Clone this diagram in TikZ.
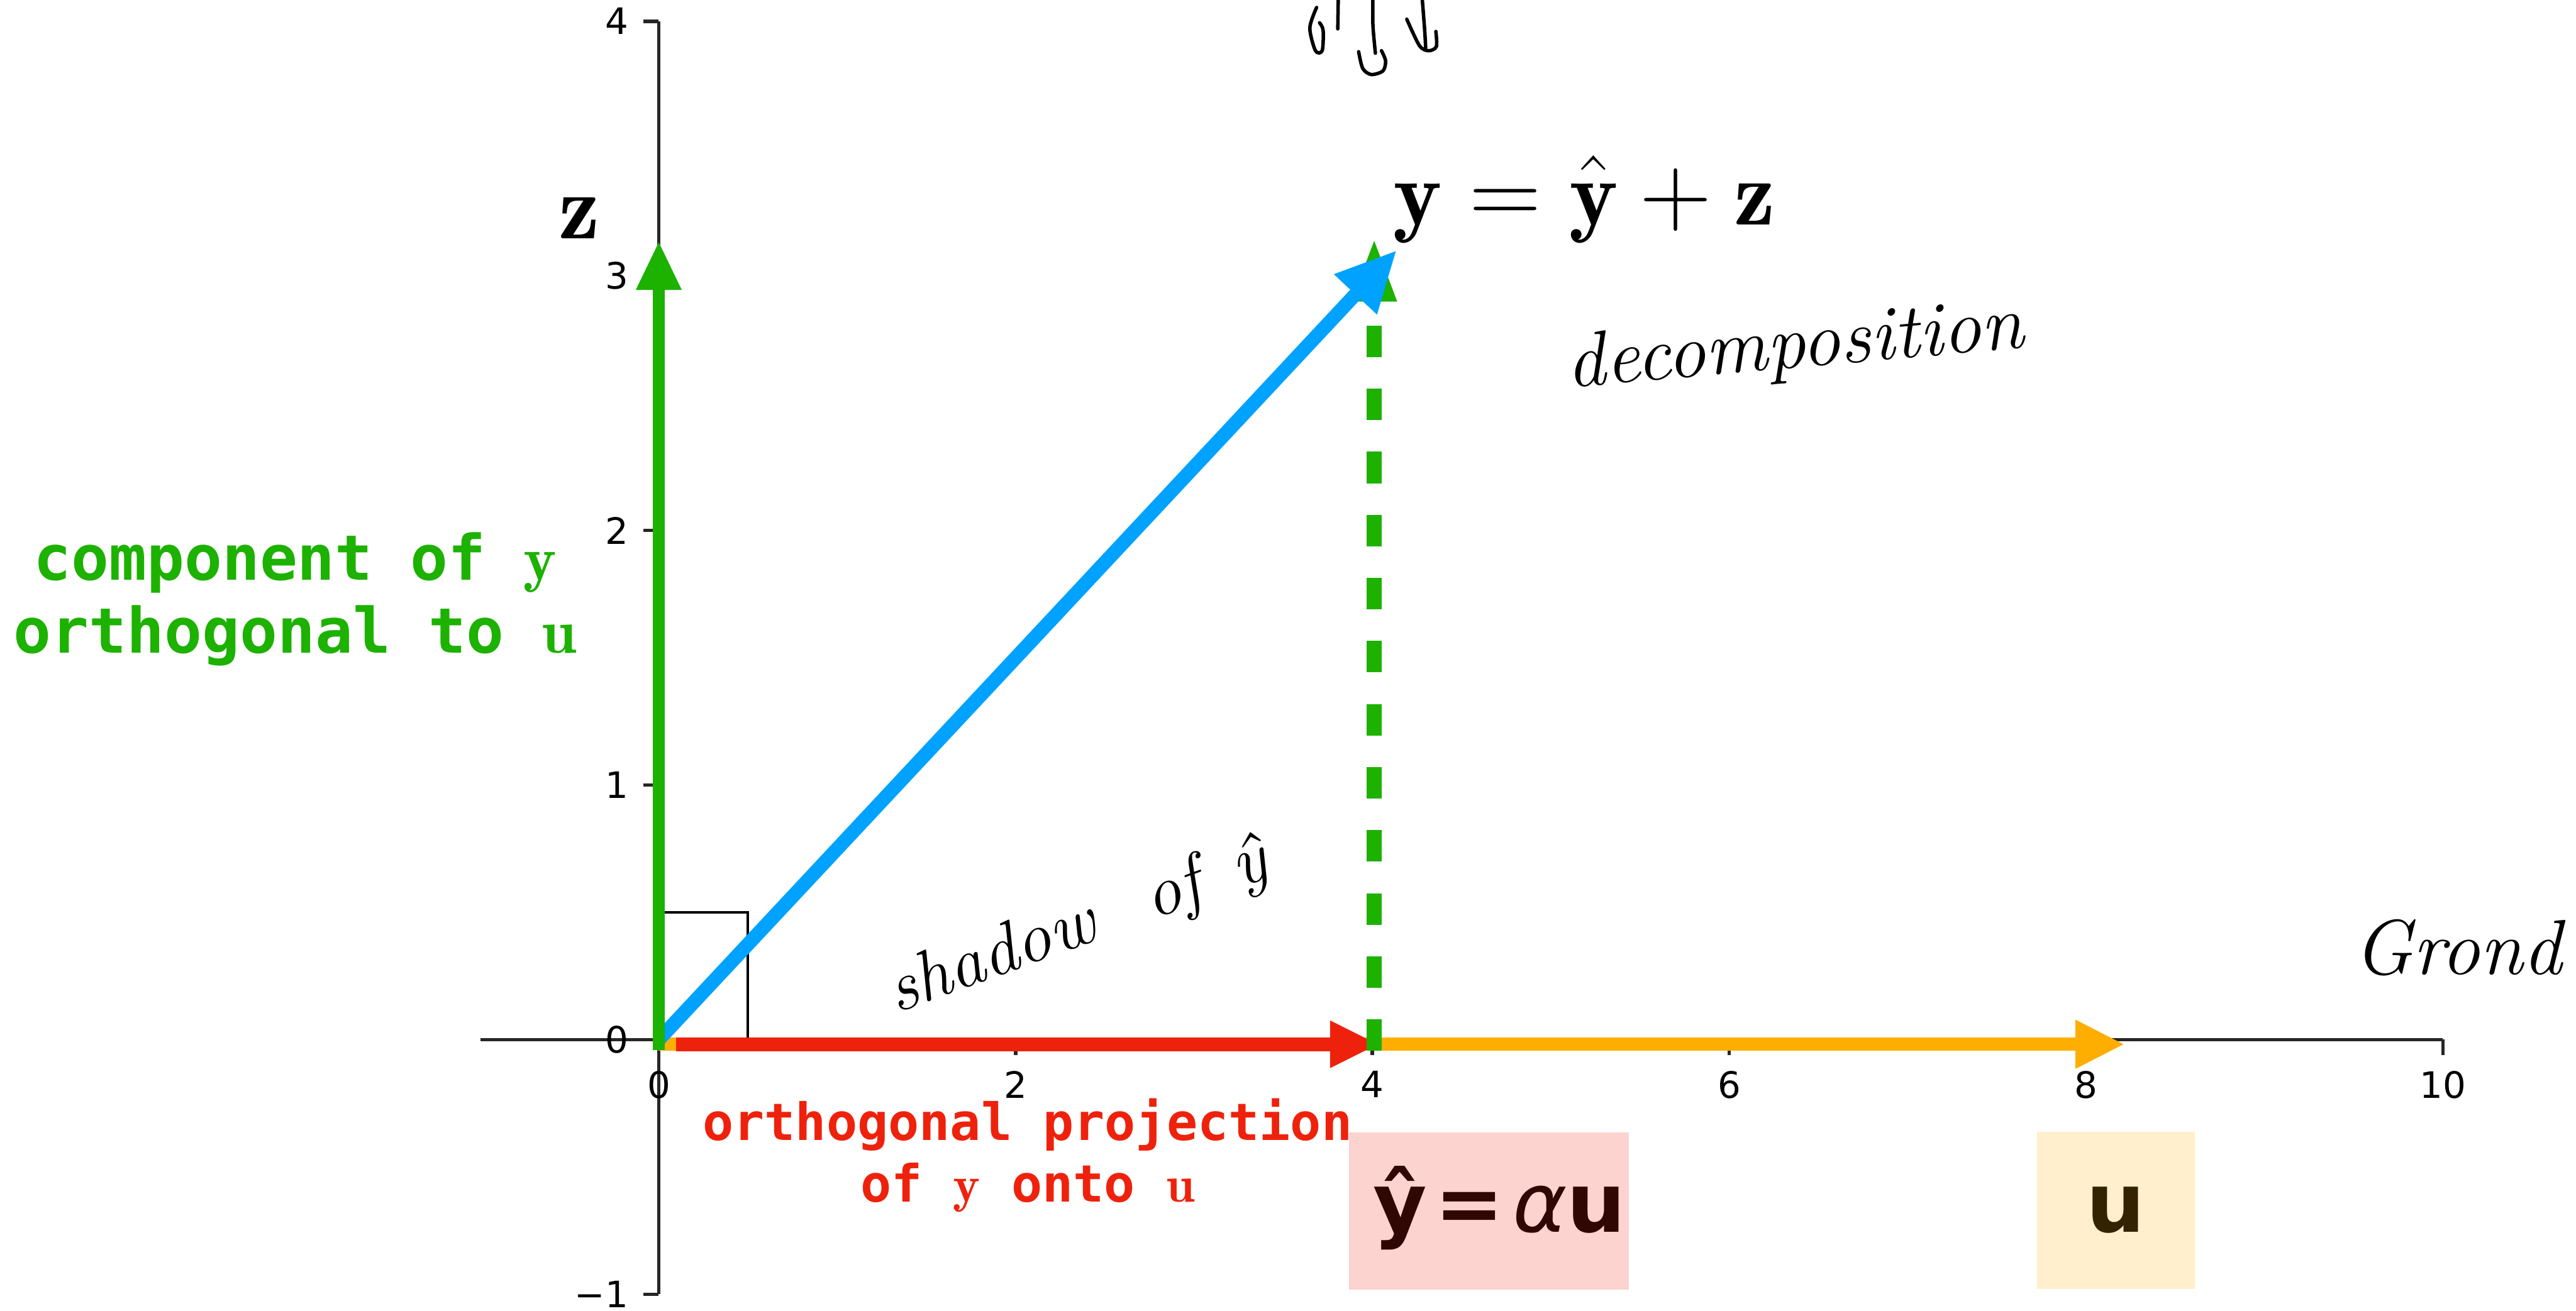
\documentclass[tikz,border=0pt]{standalone}
\usepackage{fontspec}
\usepackage{tikz}
\usetikzlibrary{arrows.meta}
\newfontfamily\dvsans{DejaVu Sans}
\newfontfamily\dvmono{DejaVu Sans Mono}
\definecolor{zgreen}{RGB}{29,177,0}
\definecolor{yblue}{RGB}{0,162,255}
\definecolor{projred}{RGB}{238,34,12}
\definecolor{uorange}{RGB}{254,174,0}
\definecolor{spinegray}{RGB}{38,38,38}

\begin{document}
\begin{tikzpicture}[x=10.86mm,y=15.5mm]
  \tikzset{
    spine/.style={draw=spinegray,line width=0.6pt},
    ticklab/.style={font=\dvsans\fontsize{6.3}{7}\selectfont,inner sep=0pt},
    vec/.style={line width=0.8mm},
    complab/.style={text=zgreen,font=\dvmono\bfseries\fontsize{10.85}{13}\selectfont,inner sep=0pt,anchor=base},
    projlab/.style={text=projred,font=\dvmono\bfseries\fontsize{8.9}{10.5}\selectfont,inner sep=0pt,anchor=base},
    eqlab/.style={font=\fontsize{16}{19}\selectfont,inner sep=0pt},
    hand/.style={font=\itshape\fontsize{#1}{#1}\selectfont,inner sep=0pt},
    ink/.style={draw=black,line width=0.6pt,line cap=round,line join=round},
    tagbox/.style={inner sep=0pt,minimum height=9.56mm},
    tagtext/.style={font=\dvsans\bfseries\fontsize{14.3}{17}\selectfont,inner sep=0pt,anchor=base},
  }
  \useasboundingbox (-3.6924,-1.0645) rectangle (10.746,4.0839);

  % axes through the origin
  \draw[spine] (-1,0) -- (10,0);
  \draw[spine] (0,-1) -- (0,4);
  \foreach \xv in {0,2,4,6,8,10} {
    \draw[spine] (\xv,0) -- ++(0,-0.92mm);
    \node[ticklab,anchor=north] (xt\xv) at (\xv,-0.119) {\xv};
  }
  \foreach \yv/\ylab in {-1/−1,0/0,1/1,2/2,3/3,4/4} {
    \draw[spine] (0,\yv) -- ++(-0.92mm,0);
    \node[ticklab,anchor=east] (yt\yv) at (-0.164,\yv) {\ylab};
  }

  \coordinate (O) at (0,0);
  \coordinate (zbot) at (0,-0.041);
  \coordinate (ztip) at (0,3.132);
  \coordinate (ytip) at (4.131,3.097);
  \coordinate (ubot) at (0,-0.018);
  \coordinate (utip) at (8.21,-0.018);
  \coordinate (pbot) at (0.098,-0.018);
  \coordinate (ptip) at (4.03,-0.018);
  \coordinate (dbot) at (4.01,-0.044);
  \coordinate (dtip) at (4.01,3.138);

  % right angle
  \draw[black,line width=0.4pt] (0,0.5) -- (0.5,0.5) -- (0.5,0);

  % vectors
  \draw[vec,draw=uorange,-{Triangle[length=2.93mm,width=3mm,line width=0pt]}] (ubot) -- (utip);
  \draw[vec,draw=projred,line width=0.85mm,-{Triangle[length=2.9mm,width=2.9mm,line width=0pt]}] (pbot) -- (ptip);
  \draw[vec,draw=zgreen,line width=0.95mm,dash pattern=on 1.92mm off 1.92mm,-{Triangle[length=3.7mm,width=2.8mm,line width=0pt]}] (dbot) -- (dtip);
  \draw[vec,draw=yblue,line width=0.85mm,-{Triangle[length=3.6mm,width=3.6mm,line width=0pt]}] (O) -- (ytip);
  \draw[vec,draw=zgreen,line width=0.75mm,-{Triangle[length=2.9mm,width=2.8mm,line width=0pt]}] (zbot) -- (ztip);

  % labels
  \node[eqlab,anchor=base west] (eq) at (4.11,3.2) {$\mathbf{y}=\hat{\mathbf{y}}+\mathbf{z}$};
  \node[eqlab,anchor=base] (zlab) at (-0.447,3.146) {$\mathbf{z}$};
  \node[complab] (comp1) at (-2.038,1.8045) {component of $\mathbf{y}$};
  \node[complab] (comp2) at (-2.038,1.518) {orthogonal to $\mathbf{u}$};
  \node[projlab] (proj1) at (2.067,-0.3948) {orthogonal projection};
  \node[projlab] (proj2) at (2.067,-0.6374) {of $\mathbf{y}$ onto $\mathbf{u}$};

  \node[tagbox,fill=projred!20,minimum width=17.06mm] (hatbox) at (4.6525,-0.6725) {};
  \node[tagtext,text=projred!20!black] (hattxt) at (4.712,-0.755) {ŷ\hspace{0.1em}=\hspace{0.1em}{\mdseries\itshape α}u};
  \node[tagbox,fill=uorange!20,minimum width=9.59mm] (ubox) at (8.1675,-0.67) {};
  \node[tagtext,text=uorange!20!black] (utxt) at (8.168,-0.757) {u};

  % handwritten notes
  \node[hand=13.4,rotate=5] (decomp) at (6.369,2.716) {decomposition};
  \node[hand=12.3,rotate=20,anchor=base west] (shadow) at (1.326,0.103) {shadow\hspace{0.8em}of\hspace{0.5em}\^{y}};
  \node[hand=13.5,anchor=base west] (grond) at (9.494,0.256) {Grond};
  \begin{scope}[shift={(-3.6924,4.0839)},x=0.1mm,y=-0.1mm]
    \draw[ink] plot[smooth] coordinates {(801.4,4.6) (797.3,17) (800.7,30.9) (804.8,30.9) (805.4,18.5) (803.2,13.9)};
    \draw[ink] (814.6,-2) -- (814.3,17.6);
    \draw[ink] plot[smooth] coordinates {(835.7,-2) (835.7,15.4) (837.2,32.4)};
    \draw[ink] plot[smooth] coordinates {(827,31.5) (829.5,41.7) (834.7,45.4) (841.8,43.2) (843.4,37.1) (840.9,30.9)};
    \draw[ink] plot[smooth] coordinates {(865.6,-2) (867.2,18.5) (867.8,29.3)};
    \draw[ink] plot[smooth] coordinates {(856.3,11.7) (864,27.8) (869.6,30.9) (874.3,28.4) (874,19.2)};
  \end{scope}
\end{tikzpicture}
\end{document}
